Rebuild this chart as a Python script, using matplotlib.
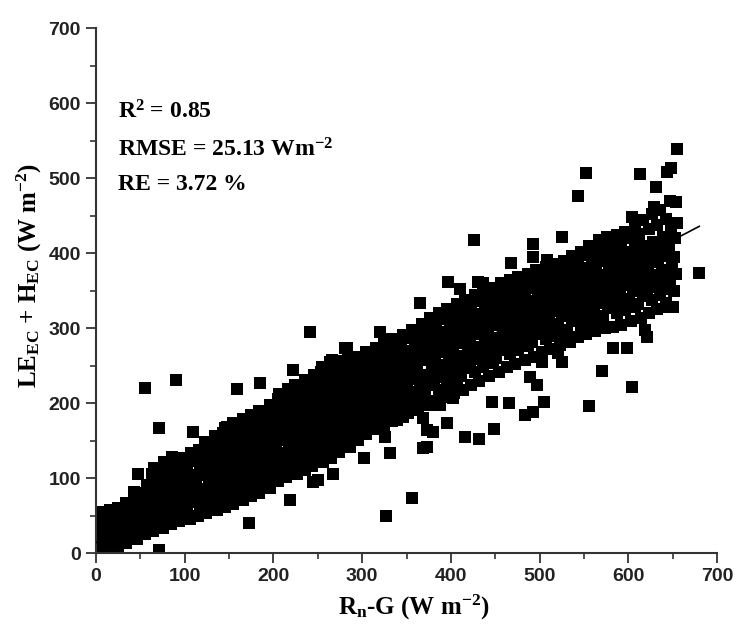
import matplotlib
matplotlib.use("Agg")
import matplotlib.pyplot as plt
from matplotlib.ticker import MultipleLocator

# Rn-G (x) vs LE_EC + H_EC (y), W m-2.
# one line per 10 W m-2 slice of Rn-G
band_0_100 = [
    (4, 2), (6, 12), (3, 22), (5, 33), (7, 44), (4, 55), (6, 28),
    (16, 3), (13, 14), (15, 25), (17, 36), (14, 47), (16, 57),
    (25, 5), (27, 16), (24, 27), (26, 38), (23, 49), (25, 60),
    (34, 13), (36, 24), (33, 35), (35, 46), (37, 57), (34, 67),
    (46, 19), (43, 30), (45, 41), (47, 52), (44, 63), (46, 74), (43, 82),
    (55, 25), (57, 36), (54, 47), (56, 58), (53, 69), (55, 80), (57, 91),
    (64, 29), (66, 40), (63, 51), (65, 62), (67, 73), (64, 84), (66, 95), (63, 106), (65, 114),
    (76, 34), (73, 45), (75, 56), (77, 67), (74, 78), (76, 89), (73, 100), (75, 111), (77, 122),
    (85, 39), (87, 50), (84, 61), (86, 72), (83, 83), (85, 94), (87, 105), (84, 116), (86, 128),
    (94, 43), (96, 54), (93, 65), (95, 76), (97, 87), (94, 98), (96, 109), (93, 120), (95, 127),
]

band_100_200 = [
    (106, 46), (103, 57), (105, 68), (107, 79), (104, 90), (106, 101), (103, 112), (105, 123), (107, 134),
    (115, 49), (117, 60), (114, 71), (116, 82), (113, 93), (115, 104), (117, 115), (114, 126), (116, 137),
    (124, 53), (126, 64), (123, 75), (125, 86), (127, 97), (124, 108), (126, 119), (123, 130), (125, 141),
    (136, 57), (133, 68), (135, 79), (137, 90), (134, 101), (136, 112), (133, 123), (135, 134), (137, 145), (134, 156),
    (145, 61), (147, 72), (144, 83), (146, 94), (143, 105), (145, 116), (147, 127), (144, 138), (146, 149), (143, 160), (145, 167),
    (154, 66), (156, 77), (153, 88), (155, 99), (157, 110), (154, 121), (156, 132), (153, 143), (155, 154), (157, 165), (154, 174),
    (166, 71), (163, 82), (165, 93), (167, 104), (164, 115), (166, 126), (163, 137), (165, 148), (167, 159), (164, 170), (166, 179),
    (175, 76), (177, 87), (174, 98), (176, 109), (173, 120), (175, 131), (177, 142), (174, 153), (176, 164), (173, 175), (175, 184),
    (184, 80), (186, 91), (183, 102), (185, 113), (187, 124), (184, 135), (186, 146), (183, 157), (185, 168), (187, 179), (184, 190),
    (196, 87), (193, 98), (195, 109), (197, 120), (194, 131), (196, 142), (193, 153), (195, 164), (197, 175), (194, 186), (196, 197),
]

band_200_300 = [
    (205, 96), (207, 107), (204, 118), (206, 129), (203, 140), (205, 151), (207, 162), (204, 173), (206, 184), (203, 195), (205, 206), (206, 212),
    (214, 101), (216, 112), (213, 123), (215, 134), (217, 145), (214, 156), (216, 167), (213, 178), (215, 189), (217, 200), (214, 211), (216, 219),
    (226, 106), (223, 117), (225, 128), (227, 139), (224, 150), (226, 161), (223, 172), (225, 183), (227, 194), (224, 205), (226, 216), (224, 224),
    (235, 111), (237, 122), (234, 133), (236, 144), (233, 155), (235, 166), (237, 177), (234, 188), (236, 199), (233, 210), (235, 221), (236, 231),
    (244, 116), (246, 127), (243, 138), (245, 149), (247, 160), (244, 171), (246, 182), (243, 193), (245, 204), (247, 215), (244, 226), (246, 237),
    (256, 121), (253, 132), (255, 143), (257, 154), (254, 165), (256, 176), (253, 187), (255, 198), (257, 209), (254, 220), (256, 231), (254, 242), (255, 248),
    (265, 127), (267, 138), (264, 149), (266, 160), (263, 171), (265, 182), (267, 193), (264, 204), (266, 215), (263, 226), (265, 237), (266, 248), (264, 254),
    (274, 135), (276, 146), (273, 157), (275, 168), (277, 179), (274, 190), (276, 201), (273, 212), (275, 223), (277, 234), (274, 245), (276, 256),
    (286, 141), (283, 152), (285, 163), (287, 174), (284, 185), (286, 196), (283, 207), (285, 218), (287, 229), (284, 240), (286, 251), (284, 261),
    (295, 151), (297, 162), (294, 173), (296, 184), (293, 195), (295, 206), (297, 217), (294, 228), (296, 239), (293, 250), (295, 262),
]

band_300_400 = [
    (304, 159), (306, 170), (303, 181), (305, 192), (307, 203), (304, 214), (306, 225), (303, 236), (305, 247), (307, 258), (304, 268),
    (316, 165), (313, 176), (315, 187), (317, 198), (314, 209), (316, 220), (313, 231), (315, 242), (317, 253), (314, 264), (316, 274),
    (325, 171), (327, 182), (324, 193), (326, 204), (323, 215), (325, 226), (327, 237), (324, 248), (326, 259), (323, 270), (325, 280),
    (334, 176), (336, 187), (333, 198), (335, 209), (337, 220), (334, 231), (336, 242), (333, 253), (335, 264), (337, 275), (334, 286),
    (346, 181), (343, 192), (345, 203), (347, 214), (344, 225), (346, 236), (343, 247), (345, 258), (347, 269), (344, 280), (346, 291),
    (352, 187), (356, 198), (354, 210), (351, 221), (358, 232), (353, 243), (357, 254), (355, 265), (359, 276), (352, 287), (356, 298),
    (363, 191), (367, 204), (361, 215), (365, 226), (369, 237), (362, 248), (366, 259), (364, 270), (368, 281), (363, 292), (367, 306),
    (374, 197), (371, 212), (377, 224), (373, 235), (379, 246), (372, 257), (376, 268), (378, 279), (375, 290), (372, 301), (376, 314),
    (383, 203), (387, 218), (381, 229), (385, 240), (389, 251), (382, 262), (386, 273), (384, 284), (388, 295), (383, 306), (387, 320),
    (392, 208), (396, 224), (394, 235), (391, 246), (398, 257), (393, 268), (397, 279), (395, 290), (399, 301), (392, 312), (396, 326),
]

band_400_500 = [
    (403, 214), (407, 230), (401, 241), (405, 252), (409, 263), (402, 274), (406, 285), (404, 296), (408, 307), (403, 318), (407, 332),
    (414, 218), (411, 236), (417, 247), (413, 258), (419, 269), (412, 280), (416, 291), (418, 302), (415, 313), (412, 324), (416, 338),
    (423, 224), (427, 242), (421, 253), (425, 264), (429, 275), (422, 286), (426, 297), (424, 308), (428, 319), (423, 330), (427, 344),
    (432, 229), (436, 248), (434, 259), (431, 270), (438, 281), (433, 292), (437, 303), (435, 314), (439, 325), (432, 336), (436, 348),
    (443, 236), (447, 254), (441, 265), (445, 276), (449, 287), (442, 298), (446, 309), (444, 320), (448, 331), (443, 342), (447, 354),
    (454, 242), (451, 260), (457, 271), (453, 282), (459, 293), (452, 304), (456, 315), (458, 326), (455, 337), (452, 348), (456, 360),
    (463, 248), (467, 266), (461, 277), (465, 288), (469, 299), (462, 310), (466, 321), (464, 332), (468, 343), (463, 354), (467, 364),
    (472, 252), (476, 271), (474, 282), (471, 293), (478, 304), (473, 315), (477, 326), (475, 337), (479, 348), (472, 359), (476, 368),
    (483, 258), (487, 276), (481, 287), (485, 298), (489, 309), (482, 320), (486, 331), (484, 342), (488, 353), (483, 364), (487, 372),
    (494, 262), (491, 281), (497, 292), (493, 303), (499, 314), (492, 325), (496, 336), (498, 347), (495, 358), (492, 369), (496, 378),
]

band_500_660 = [
    (503, 268), (507, 286), (501, 297), (505, 308), (509, 319), (502, 330), (506, 341), (504, 352), (508, 363), (503, 374), (507, 382),
    (512, 272), (516, 290), (514, 301), (511, 312), (518, 323), (513, 334), (517, 345), (515, 356), (519, 367), (512, 378), (516, 386),
    (523, 278), (527, 294), (521, 305), (525, 316), (529, 327), (522, 338), (526, 349), (524, 360), (528, 371), (523, 382), (527, 390),
    (534, 282), (531, 298), (537, 309), (533, 320), (539, 331), (532, 342), (536, 353), (538, 364), (535, 375), (532, 386), (536, 396),
    (543, 288), (547, 303), (541, 314), (545, 325), (549, 336), (542, 347), (546, 358), (544, 369), (548, 380), (543, 391), (547, 402),
    (552, 292), (556, 308), (554, 319), (551, 330), (558, 341), (553, 352), (557, 363), (555, 374), (559, 385), (552, 398), (556, 410),
    (563, 296), (567, 312), (561, 323), (565, 334), (569, 345), (562, 356), (566, 367), (564, 378), (568, 389), (563, 402), (567, 418),
    (574, 300), (571, 316), (577, 327), (573, 338), (579, 349), (572, 360), (576, 371), (578, 382), (575, 393), (572, 406), (576, 422),
    (583, 302), (587, 320), (581, 331), (585, 342), (589, 353), (582, 364), (586, 375), (584, 386), (588, 397), (583, 410), (587, 424),
    (592, 304), (596, 324), (594, 335), (591, 346), (598, 357), (593, 368), (597, 379), (595, 390), (599, 401), (592, 414), (596, 428),
    (603, 310), (607, 328), (601, 339), (605, 350), (609, 361), (602, 372), (606, 383), (604, 394), (608, 405), (603, 420), (607, 436),
    (614, 314), (611, 332), (617, 343), (613, 354), (619, 365), (612, 376), (616, 387), (618, 398), (615, 409), (612, 426), (616, 444),
    (623, 320), (627, 338), (621, 349), (625, 360), (629, 371), (622, 382), (626, 393), (624, 404), (628, 415), (623, 432), (627, 452),
    (632, 326), (636, 344), (634, 355), (631, 366), (638, 377), (633, 388), (637, 399), (635, 410), (639, 421), (632, 438), (636, 458),
    (643, 334), (647, 352), (641, 363), (645, 374), (649, 385), (642, 396), (646, 407), (644, 418), (648, 430), (643, 446), (647, 470),
    (652, 350), (654, 372), (651, 395), (653, 420), (655, 440),
]

outliers = [
    (55, 220), (90, 231), (71, 167), (109, 161), (123, 148), (47, 106), (159, 219),
    (185, 227), (241, 295), (283, 273), (222, 244), (172, 40), (71, 4), (302, 127),
    (219, 71), (245, 95), (250, 97), (267, 106), (247, 233), (266, 257), (320, 295),
    (326, 155), (331, 134), (369, 140), (356, 73), (327, 50), (339, 177), (369, 180),
    (365, 333), (397, 362), (430, 362), (410, 352), (426, 417), (468, 387), (470, 364),
    (493, 412), (492, 395), (508, 391), (508, 377), (525, 421), (552, 507), (543, 476),
    (613, 505), (631, 488), (648, 513), (644, 508), (655, 539), (654, 468), (629, 461),
    (604, 448), (680, 373), (570, 243), (604, 221), (556, 196), (505, 201), (484, 184),
    (492, 188), (466, 200), (446, 201), (449, 165), (432, 152), (416, 155), (373, 164),
    (396, 173), (373, 141), (619, 297), (621, 288), (583, 273), (599, 273), (521, 267),
    (525, 255), (503, 255), (489, 235), (497, 224), (650, 328), (644, 328), (647, 360),
    (380, 161), (388, 197), (402, 207), (436, 360), (264, 255), (281, 273), (148, 168),
]

# fitted line
fit_slope = 0.62
fit_intercept = 14
fit_x = [0, 680]

stats_lines = ["R$^{2}$ = 0.85", "RMSE = 25.13 Wm$^{-2}$", "RE = 3.72 %"]
stats_y = [588, 537, 491]

points = band_0_100 + band_100_200 + band_200_300 + band_300_400 + band_400_500 + band_500_660 + outliers
rn_g = [p[0] for p in points]
le_h = [p[1] for p in points]

plt.rcParams['mathtext.fontset'] = 'custom'
plt.rcParams['mathtext.rm'] = 'Liberation Serif:bold'
plt.rcParams['mathtext.it'] = 'Liberation Serif:bold'
plt.rcParams['mathtext.bf'] = 'Liberation Serif:bold'

fig = plt.figure(figsize=(7.37, 6.28), dpi=100)
ax = fig.add_axes([0.1303, 0.1194, 0.8426, 0.836])

ax.scatter(rn_g, le_h, marker='s', s=64, color='black', linewidths=0, zorder=2)
ax.plot(fit_x, [fit_slope * v + fit_intercept for v in fit_x], color='black', lw=1.2, zorder=3)

ax.set_xlim(0, 700)
ax.set_ylim(0, 700)
ax.xaxis.set_major_locator(MultipleLocator(100))
ax.yaxis.set_major_locator(MultipleLocator(100))
ax.xaxis.set_minor_locator(MultipleLocator(50))
ax.yaxis.set_minor_locator(MultipleLocator(50))

for side in ['top', 'right']:
    ax.spines[side].set_visible(False)
for side in ['left', 'bottom']:
    ax.spines[side].set_linewidth(1.5)
    ax.spines[side].set_color('#333333')

ax.tick_params(which='major', direction='out', length=7, width=1.3, color='#333333', pad=4)
ax.tick_params(which='minor', direction='out', length=4, width=1.2, color='#333333')
for lab in ax.get_xticklabels() + ax.get_yticklabels():
    lab.set_fontfamily('Liberation Sans')
    lab.set_fontweight('bold')
    lab.set_fontsize(14)
    lab.set_color('#222222')

ax.set_xlabel("R$_{n}$-G (W m$^{-2}$)", fontfamily='Liberation Serif', fontweight='bold',
              fontsize=18)
ax.set_ylabel("LE$_{EC}$ + H$_{EC}$ (W m$^{-2}$)", fontfamily='Liberation Serif',
              fontweight='bold', fontsize=18)
ax.xaxis.set_label_coords(0.512, -0.075)
ax.yaxis.set_label_coords(-0.083, 0.528)

for line, ty in zip(stats_lines, stats_y):
    ax.text(25, ty, line, fontfamily='Liberation Serif', fontweight='bold',
            fontsize=17, va='center', ha='left')

fig.savefig("out.png", dpi=100)
